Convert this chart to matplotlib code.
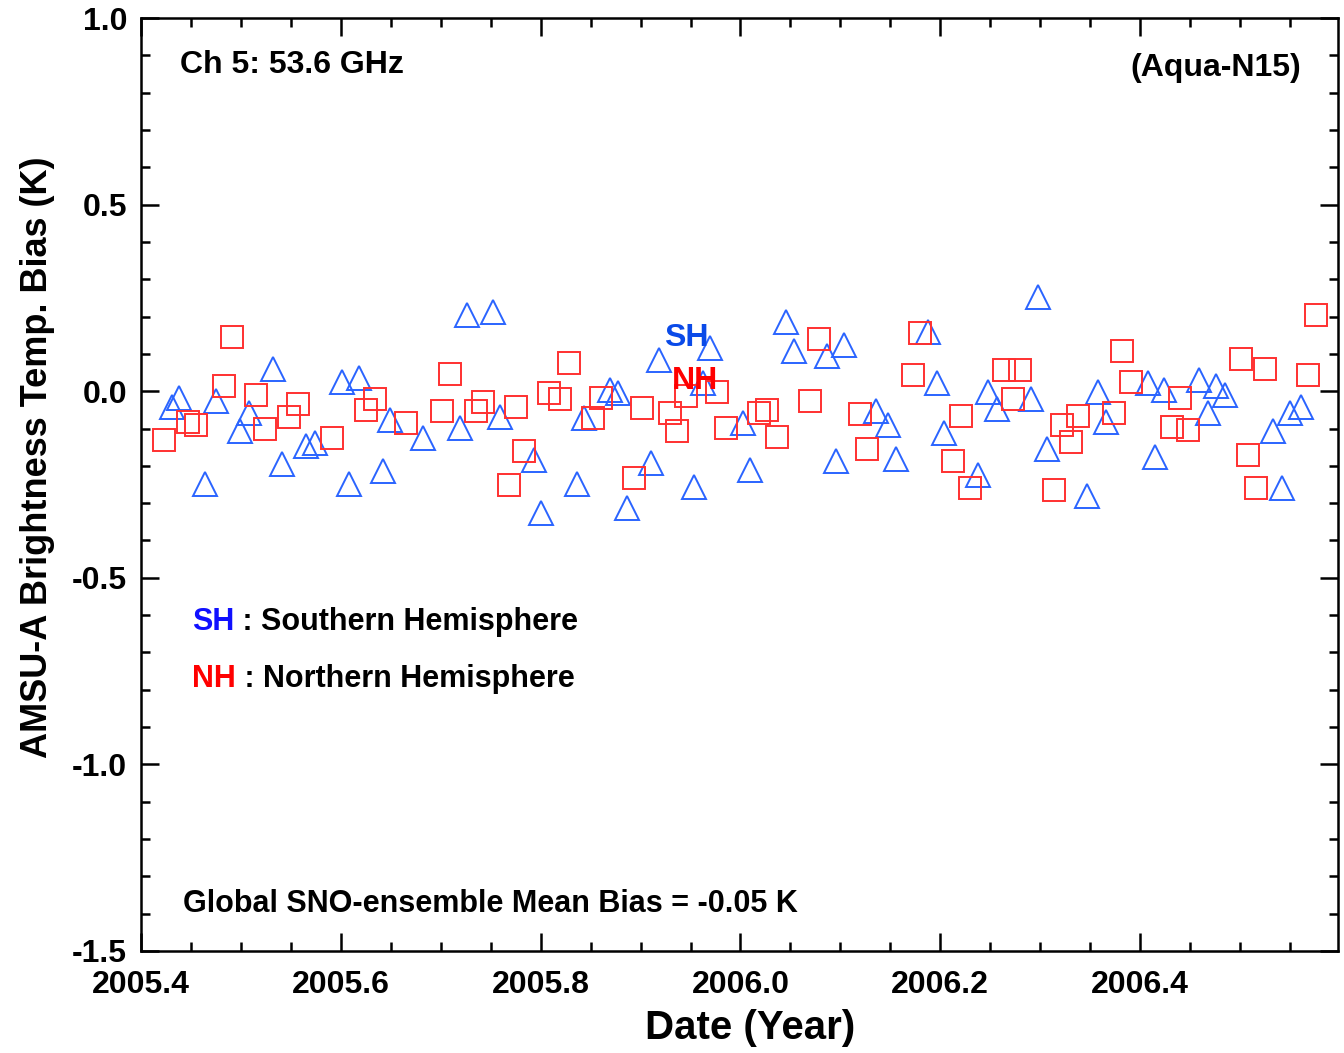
import matplotlib
matplotlib.use('Agg')
import matplotlib.pyplot as plt
from matplotlib.ticker import MultipleLocator, FormatStrFormatter

plt.rcParams['font.family'] = ['Liberation Sans', 'DejaVu Sans']
plt.rcParams['font.weight'] = 'bold'
plt.rcParams['axes.labelweight'] = 'bold'
plt.rcParams['axes.unicode_minus'] = False

# Southern Hemisphere SNO biases (triangles)
sh_year = [2005.431, 2005.438, 2005.464, 2005.475, 2005.499, 2005.508, 2005.532, 2005.541,
           2005.565, 2005.574, 2005.601, 2005.608, 2005.618, 2005.642, 2005.649, 2005.682,
           2005.719, 2005.726, 2005.752, 2005.759, 2005.793, 2005.800, 2005.836, 2005.843,
           2005.869, 2005.877, 2005.886, 2005.910, 2005.918, 2005.953, 2005.962, 2005.970,
           2006.003, 2006.010, 2006.046, 2006.054, 2006.087, 2006.096, 2006.104, 2006.136,
           2006.148, 2006.156, 2006.188, 2006.197, 2006.204, 2006.238, 2006.248, 2006.257,
           2006.291, 2006.298, 2006.307, 2006.347, 2006.358, 2006.366, 2006.408, 2006.415,
           2006.424, 2006.459, 2006.468, 2006.476, 2006.485, 2006.533, 2006.542, 2006.550,
           2006.561]
sh_bias = [-0.042, -0.018, -0.248, -0.025, -0.107, -0.058, 0.059, -0.196,
           -0.147, -0.140, 0.024, -0.248, 0.035, -0.215, -0.077, -0.125,
           -0.099, 0.205, 0.213, -0.070, -0.184, -0.327, -0.248, -0.072,
           0.003, -0.006, -0.312, -0.192, 0.083, -0.256, 0.023, 0.115,
           -0.086, -0.211, 0.185, 0.107, 0.095, -0.187, 0.125, -0.054,
           -0.091, -0.183, 0.159, 0.022, -0.111, -0.225, -0.001, -0.047,
           -0.022, 0.253, -0.155, -0.280, -0.001, -0.083, 0.023, -0.176,
           0.002, 0.030, -0.058, 0.014, -0.010, -0.107, -0.260, -0.058,
           -0.042]

# Northern Hemisphere SNO biases (squares)
nh_year = [2005.423, 2005.447, 2005.455, 2005.483, 2005.491, 2005.515, 2005.524, 2005.548,
           2005.557, 2005.591, 2005.625, 2005.634, 2005.665, 2005.701, 2005.709,
           2005.735, 2005.742, 2005.768, 2005.775, 2005.783, 2005.808, 2005.819, 2005.828,
           2005.852, 2005.860, 2005.893, 2005.901, 2005.929, 2005.936, 2005.945, 2005.977,
           2005.986, 2006.019, 2006.027, 2006.037, 2006.070, 2006.079, 2006.120, 2006.127,
           2006.173, 2006.180, 2006.213, 2006.221, 2006.230, 2006.264, 2006.273, 2006.280,
           2006.314, 2006.322, 2006.331, 2006.338, 2006.374, 2006.382, 2006.391, 2006.432,
           2006.440, 2006.448, 2006.501, 2006.508, 2006.516, 2006.525, 2006.568, 2006.576]
nh_bias = [-0.131, -0.082, -0.090, 0.015, 0.144, -0.009, -0.102, -0.070,
           -0.033, -0.126, -0.050, -0.021, -0.086, -0.053, 0.047,
           -0.054, -0.030, -0.251, -0.042, -0.159, -0.006, -0.022, 0.076,
           -0.071, -0.018, -0.232, -0.046, -0.058, -0.107, -0.014, -0.001,
           -0.099, -0.058, -0.050, -0.122, -0.025, 0.140, -0.062, -0.156,
           0.043, 0.156, -0.187, -0.066, -0.260, 0.056, -0.021, 0.056,
           -0.265, -0.091, -0.135, -0.066, -0.058, 0.108, 0.024, -0.095,
           -0.018, -0.103, 0.087, -0.172, -0.260, 0.059, 0.043, 0.204]

mean_bias = -0.05

fig = plt.figure(figsize=(13.44, 10.53), dpi=100)
ax = fig.add_axes([0.1049, 0.0969, 0.8906, 0.886])

ax.plot(sh_year, sh_bias, linestyle='none', marker='^', markersize=17,
        markerfacecolor='none', markeredgecolor='#2a64ff', markeredgewidth=1.4)
ax.plot(nh_year, nh_bias, linestyle='none', marker='s', markersize=16.5,
        markerfacecolor='none', markeredgecolor='#ff3030', markeredgewidth=1.4)

ax.set_xlim(2005.4, 2006.598)
ax.set_ylim(-1.5, 1.0)
ax.xaxis.set_major_locator(MultipleLocator(0.2))
ax.xaxis.set_minor_locator(MultipleLocator(0.05))
ax.yaxis.set_major_locator(MultipleLocator(0.5))
ax.yaxis.set_minor_locator(MultipleLocator(0.1))
ax.xaxis.set_major_formatter(FormatStrFormatter('%.1f'))
ax.yaxis.set_major_formatter(FormatStrFormatter('%.1f'))

ax.tick_params(which='both', direction='in', top=True, right=True, width=1.8, labelsize=23)
ax.tick_params(which='major', length=13, pad=10)
ax.tick_params(axis='x', which='major', pad=14)
ax.tick_params(which='minor', length=6.5)
for s in ax.spines.values():
    s.set_linewidth(1.8)

ax.set_xlabel('Date (Year)', fontsize=29, labelpad=6)
ax.set_ylabel('AMSU-A Brightness Temp. Bias (K)', fontsize=26, labelpad=12)
ax.xaxis.label.set_x(0.509)
ax.yaxis.label.set_y(0.529)

ax.text(0.0325, 0.950, 'Ch 5: 53.6 GHz', transform=ax.transAxes, fontsize=23,
        ha='left', va='center')
ax.text(0.969, 0.946, '(Aqua-N15)', transform=ax.transAxes, fontsize=23,
        ha='right', va='center')

# hemisphere tags inside the scatter
ax.text(2005.946, 0.143, 'SH', color='#0a4ae8', fontsize=23, ha='center', va='center')
ax.text(2005.954, 0.028, 'NH', color='#ff0000', fontsize=23, ha='center', va='center')

# key
sh_key = ax.text(0.0425, 0.353, 'SH', color='#1010ff', fontsize=22,
                 transform=ax.transAxes, ha='left', va='center')
ax.annotate(' : Southern Hemisphere', xy=(1, 0), xycoords=sh_key, fontsize=22,
            ha='left', va='bottom')
nh_key = ax.text(0.0425, 0.292, 'NH', color='#ff0000', fontsize=22,
                 transform=ax.transAxes, ha='left', va='center')
ax.annotate(' : Northern Hemisphere', xy=(1, 0), xycoords=nh_key, fontsize=22,
            ha='left', va='bottom')

ax.text(0.035, 0.050, 'Global SNO-ensemble Mean Bias = %.2f K' % mean_bias,
        transform=ax.transAxes, fontsize=22, ha='left', va='center')

fig.savefig('out.png', dpi=100)
